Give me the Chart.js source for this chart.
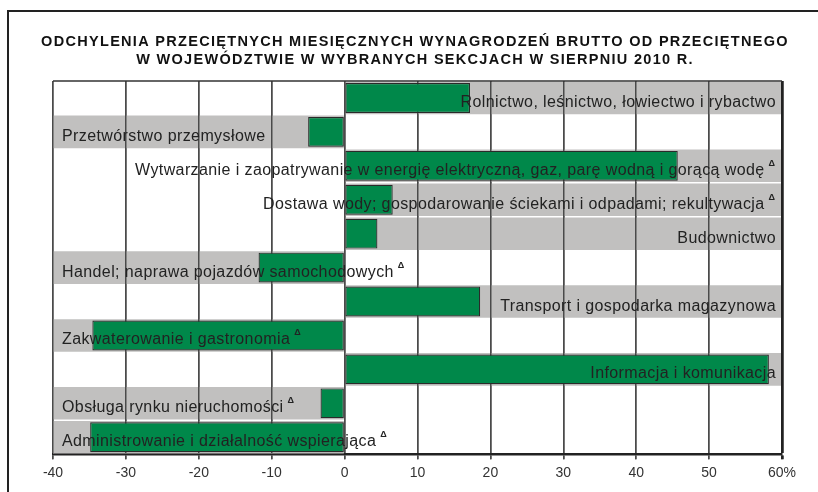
<!DOCTYPE html>
<html>
<head>
<meta charset="utf-8">
<script src="https://cdn.jsdelivr.net/npm/chart.js@4.4.1/dist/chart.umd.min.js"></script>
<style>
  html, body { margin: 0; padding: 0; background: #fff; }
  #wrap { position: relative; width: 818px; height: 492px; }
  #frame { position: absolute; left: 7px; top: 10px; right: -10px; bottom: -10px;
           border-left: 2.5px solid #222; border-top: 2.5px solid #222; }
  canvas { position: absolute; left: 0; top: 0; }
</style>
</head>
<body>
<div id="wrap">
  <div id="frame"></div>
  <canvas id="sectionsChart"></canvas>
</div>
<script>
const titleLines = [
    'ODCHYLENIA PRZECIĘTNYCH MIESIĘCZNYCH WYNAGRODZEŃ BRUTTO OD PRZECIĘTNEGO',
    'W WOJEWÓDZTWIE W WYBRANYCH SEKCJACH W SIERPNIU 2010 R.'
];
const sectors = [
    'Rolnictwo, leśnictwo, łowiectwo i rybactwo',
    'Przetwórstwo przemysłowe',
    'Wytwarzanie i zaopatrywanie w energię elektryczną, gaz, parę wodną i gorącą wodę',
    'Dostawa wody; gospodarowanie ściekami i odpadami; rekultywacja',
    'Budownictwo',
    'Handel; naprawa pojazdów samochodowych',
    'Transport i gospodarka magazynowa',
    'Zakwaterowanie i gastronomia',
    'Informacja i komunikacja',
    'Obsługa rynku nieruchomości',
    'Administrowanie i działalność wspierająca'
];
const values = [17.2, -5.0, 45.7, 6.6, 4.5, -11.8, 18.6, -34.6, 58.2, -3.3, -34.9];
// sections marked with the small triangle
const marked = [false, false, true, true, false, true, false, true, false, true, true];
const tickLabels = ['-40', '-30', '-20', '-10', '0', '10', '20', '30', '40', '50', '60%'];
const xMin = -40;
const xMax = 60;

const FONT = '"Liberation Sans", Arial, sans-serif';

// grey band behind each row, on the side of the bar
const bands = values.map(v => v >= 0 ? xMax : xMin);

const sectorLabels = {
    id: 'sectorLabels',
    afterDatasetDraw(chart, args) {
        // grid lines go over the grey bands but under the green bars
        if (args.index === 0) chart.scales.x.drawGrid(chart.chartArea);
    },
    afterDatasetsDraw(chart) {
        const { ctx, chartArea, scales: { x, y } } = chart;
        ctx.save();
        ctx.fillStyle = '#222';
        ctx.textBaseline = 'alphabetic';
        ctx.textAlign = 'left';
        sectors.forEach((name, i) => {
            const base = y.getPixelForValue(i) + 9;
            ctx.letterSpacing = '0.4px';
            ctx.font = '16px ' + FONT;
            const tw = ctx.measureText(name).width;
            ctx.letterSpacing = '0px';
            ctx.font = 'bold 9px ' + FONT;
            const dw = marked[i] ? ctx.measureText('Δ').width + 5 : 0;
            const left = values[i] >= 0
                ? x.getPixelForValue(xMax) - 6 - tw - dw
                : x.getPixelForValue(xMin) + 9;
            ctx.letterSpacing = '0.4px';
            ctx.font = '16px ' + FONT;
            ctx.fillText(name, left, base);
            if (marked[i]) {
                ctx.letterSpacing = '0px';
                ctx.font = 'bold 9px ' + FONT;
                ctx.fillText('Δ', left + tw + 4, base - 9);
            }
        });
        // top edge of the plot
        ctx.strokeStyle = '#333';
        ctx.lineWidth = 1.5;
        ctx.beginPath();
        ctx.moveTo(chartArea.left, chartArea.top);
        ctx.lineTo(chartArea.right, chartArea.top);
        ctx.stroke();

        // title
        ctx.fillStyle = '#111';
        ctx.textAlign = 'center';
        ctx.textBaseline = 'middle';
        ctx.letterSpacing = '1.3px';
        ctx.font = 'bold 14.5px ' + FONT;
        titleLines.forEach((line, i) => {
            ctx.fillText(line, chart.width / 2 + 6, 42 + i * 18);
        });
        ctx.restore();
    }
};

new Chart(document.getElementById('sectionsChart'), {
    type: 'bar',
    data: {
        labels: sectors,
        datasets: [
            {
                data: bands,
                backgroundColor: '#c1c0bf',
                borderWidth: 0,
                barPercentage: 0.96,
                categoryPercentage: 1,
                grouped: false,
                order: 2
            },
            {
                data: values,
                backgroundColor: '#00884a',
                borderColor: '#2a2a2a',
                borderWidth: 1.2,
                borderSkipped: false,
                barPercentage: 0.88,
                categoryPercentage: 1,
                grouped: false,
                order: 1
            }
        ]
    },
    options: {
        indexAxis: 'y',
        responsive: true,
        maintainAspectRatio: false,
        animation: false,
        layout: { padding: { top: 81, left: 53, right: 36, bottom: 4 } },
        scales: {
            x: {
                min: xMin,
                max: xMax,
                ticks: {
                    stepSize: 10,
                    padding: 6,
                    color: '#333',
                    font: { family: FONT, size: 14 },
                    callback: (value, index) => tickLabels[index]
                },
                grid: {
                    color: ctx => ctx.tick && ctx.tick.value === xMax ? '#222' : '#4a4a4a',
                    lineWidth: ctx => ctx.tick && ctx.tick.value === xMax ? 2.5 : 1.5,
                    tickLength: 5
                },
                border: { color: '#222', width: 2.5 }
            },
            y: {
                display: false
            }
        },
        plugins: {
            legend: { display: false },
            tooltip: { enabled: false },
            title: { display: false }
        }
    },
    plugins: [sectorLabels]
});
</script>
</body>
</html>
